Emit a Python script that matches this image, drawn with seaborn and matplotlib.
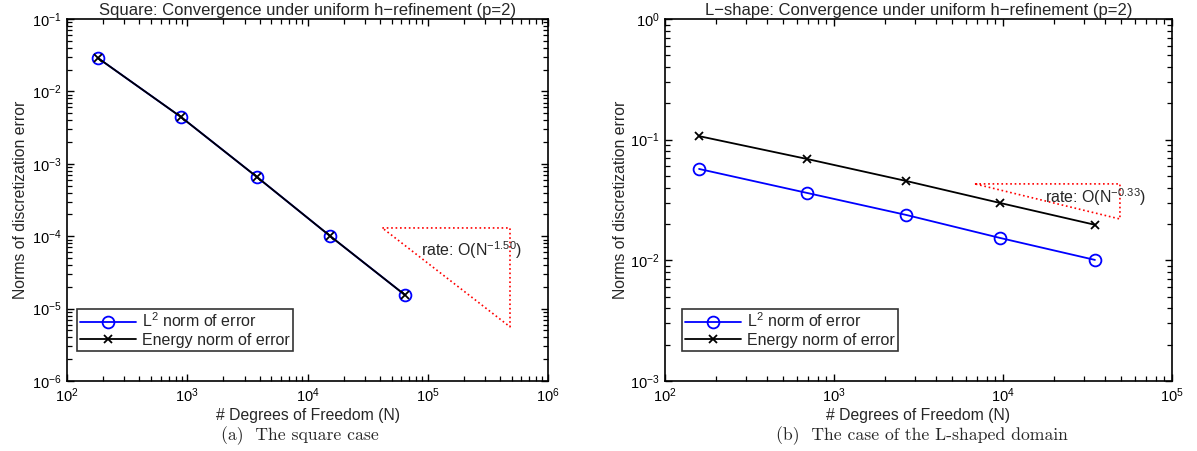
import numpy as np
import pandas as pd
import matplotlib
matplotlib.use('Agg')
import matplotlib.pyplot as plt
import seaborn as sns
from matplotlib.ticker import LogLocator, NullFormatter

# data
sq_dof = [181, 887, 3800, 15400, 64700]
sq_l2 = [0.0289, 0.00443, 6.57e-4, 1.007e-4, 1.54e-5]
sq_energy = [0.0289, 0.00443, 6.57e-4, 1.007e-4, 1.54e-5]
sq_rate = "-1.50"
sq_tri_x = [41900, 483000, 483000, 41900]
sq_tri_y = [1.30e-4, 1.30e-4, 5.6e-6, 1.30e-4]

ls_dof = [159, 692, 2667, 9590, 35000]
ls_l2 = [0.0572, 0.0362, 0.0238, 0.01534, 0.01008]
ls_energy = [0.107, 0.0692, 0.0455, 0.0299, 0.0197]
ls_rate = "-0.33"
ls_tri_x = [6820, 49200, 49200, 6820]
ls_tri_y = [0.0430, 0.0430, 0.0220, 0.0430]

titles = ["Square: Convergence under uniform h\u2212refinement (p=2)",
          "L\u2212shape: Convergence under uniform h\u2212refinement (p=2)"]
captions = ["(a)  The square case", "(b)  The case of the L-shaped domain"]
xlims = [(1e2, 1e6), (1e2, 1e5)]
ylims = [(1e-6, 1e-1), (1e-3, 1e0)]

sns.set_theme(style="white")
plt.rcParams['font.family'] = ['Liberation Sans', 'DejaVu Sans']
plt.rcParams['mathtext.fontset'] = 'custom'
plt.rcParams['mathtext.rm'] = 'Liberation Sans'
plt.rcParams['mathtext.it'] = 'Liberation Sans:italic'
plt.rcParams['mathtext.bf'] = 'Liberation Sans:bold'

fig = plt.figure(figsize=(11.97, 4.51), dpi=100)
ax1 = fig.add_axes([67 / 1197, 1 - 381 / 451, 481 / 1197, 362 / 451])
ax2 = fig.add_axes([665 / 1197, 1 - 381 / 451, 507 / 1197, 362 / 451])

# axes, data, triangle, text position, legend offset, ylabel pad
panels = [
    (ax1, sq_dof, sq_l2, sq_energy, sq_rate, sq_tri_x, sq_tri_y, (87900, 6.5e-5), 10 / 481, 3),
    (ax2, ls_dof, ls_l2, ls_energy, ls_rate, ls_tri_x, ls_tri_y, (17700, 0.0335), 17 / 507, 1),
]

for i, (ax, dof, l2, en, rate, tx, ty, txt_pos, leg_x, ypad) in enumerate(panels):
    ax.set_xscale('log')
    ax.set_yscale('log')
    df = pd.DataFrame({'N': dof, 'l2': l2, 'energy': en})
    sns.lineplot(data=df, x='N', y='l2', ax=ax, color='blue', lw=1.3,
                 marker='o', markersize=8.5, markerfacecolor='none',
                 markeredgecolor='blue', markeredgewidth=1.3,
                 estimator=None, label='L$^2$ norm of error')
    sns.lineplot(data=df, x='N', y='energy', ax=ax, color='black', lw=1.3,
                 marker='x', markersize=5.5, markeredgecolor='black',
                 markeredgewidth=1.3, estimator=None,
                 label='Energy norm of error')
    ax.plot(tx, ty, color='red', linestyle=':', lw=1.2)
    ax.text(txt_pos[0], txt_pos[1], 'rate: O(N$^{' + rate + '}$)', fontsize=11.5,
            va='center', ha='left')

    ax.set_xlim(*xlims[i])
    ax.set_ylim(*ylims[i])
    ax.xaxis.set_major_locator(LogLocator(base=10, numticks=10))
    ax.yaxis.set_major_locator(LogLocator(base=10, numticks=10))
    ax.xaxis.set_minor_locator(LogLocator(base=10, subs=np.arange(2, 10) * 1.0, numticks=50))
    ax.yaxis.set_minor_locator(LogLocator(base=10, subs=np.arange(2, 10) * 1.0, numticks=50))
    ax.xaxis.set_minor_formatter(NullFormatter())
    ax.yaxis.set_minor_formatter(NullFormatter())
    ax.tick_params(which='both', direction='in', bottom=True, left=True,
                   top=True, right=True, labelsize=10.5, colors='black')
    ax.tick_params(which='major', length=5, width=1.0, pad=4)
    ax.tick_params(which='minor', length=3.5, width=0.9)
    for s in ax.spines.values():
        s.set_color('black')
        s.set_linewidth(1.2)

    ax.set_title(titles[i], fontsize=12, pad=3)
    ax.set_xlabel('# Degrees of Freedom (N)', fontsize=11.3, labelpad=2)
    ax.set_ylabel('Norms of discretization error', fontsize=11.3, labelpad=ypad)

    leg = ax.legend(loc='lower left', bbox_to_anchor=(leg_x, 30 / 362),
                    fontsize=11.5, frameon=True, fancybox=False,
                    borderaxespad=0, handlelength=3.5, borderpad=0.2,
                    labelspacing=0.15, handletextpad=0.4)
    leg.get_frame().set_edgecolor('black')
    leg.get_frame().set_linewidth(1.2)
    ax.grid(False)

fig.text(300 / 1197, 1 - 436 / 451, captions[0], fontsize=12.7, family='cmr10',
         ha='center', va='center')
fig.text(922 / 1197, 1 - 436 / 451, captions[1], fontsize=12.7, family='cmr10',
         ha='center', va='center')

fig.savefig('out.png', dpi=100)
